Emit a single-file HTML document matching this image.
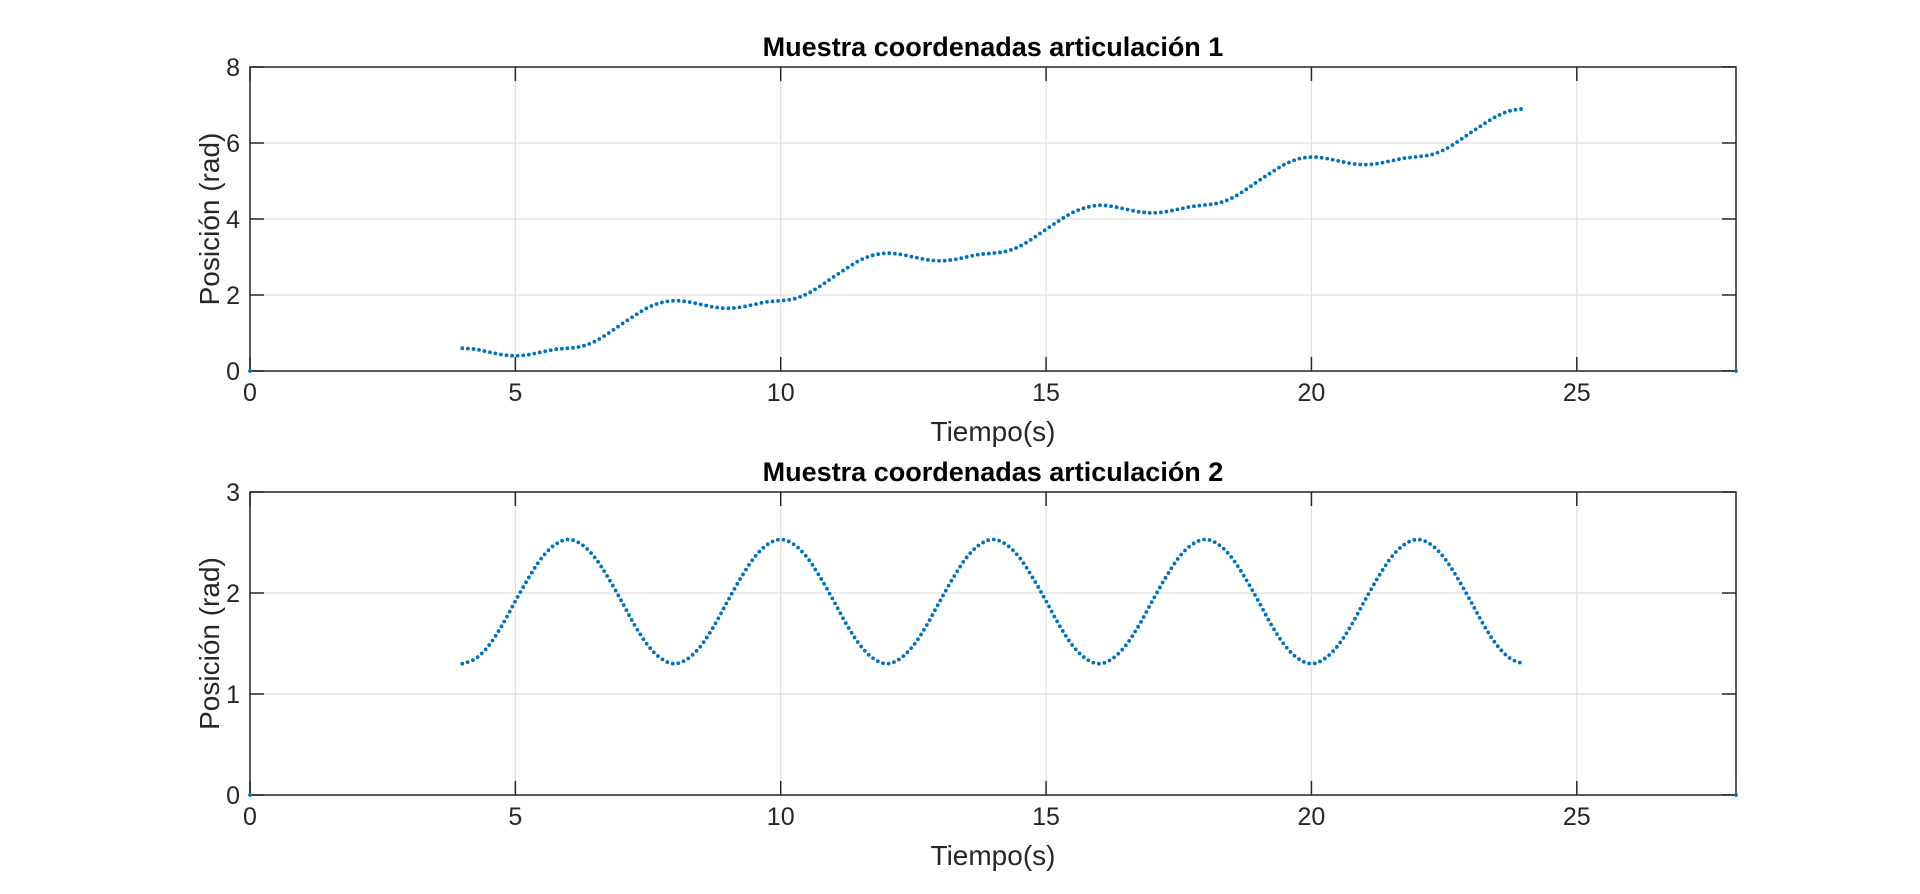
<!DOCTYPE html>
<html><head><meta charset="utf-8"><style>
html,body{margin:0;padding:0;background:#fff;}
svg{display:block;font-family:"Liberation Sans",Arial,sans-serif;}
</style></head><body>
<svg id="fig" width="1920" height="894" viewBox="0 0 1920 894"></svg>
<script>
// ---- data ----
const timeStart = 4;
const timeStep = 0.25;
const joint1Values = [
0.60,0.57,0.50,0.43,0.40,0.43,0.50,0.57,0.60,0.65,0.78,0.99,1.23,1.46,1.67,1.80,
1.85,1.82,1.75,1.68,1.65,1.68,1.75,1.82,1.85,1.90,2.03,2.24,2.48,2.71,2.92,3.05,
3.10,3.07,3.00,2.93,2.90,2.93,3.00,3.07,3.10,3.15,3.28,3.49,3.73,3.96,4.17,4.30,
4.36,4.33,4.26,4.19,4.16,4.19,4.26,4.33,4.37,4.42,4.55,4.76,5.00,5.23,5.44,5.58,
5.63,5.60,5.53,5.46,5.43,5.46,5.53,5.60,5.64,5.69,5.82,6.03,6.27,6.50,6.71,6.85,
6.90];
const joint2Values = [
1.30,1.35,1.48,1.68,1.92,2.15,2.35,2.48,2.53,2.48,2.35,2.15,1.92,1.68,1.48,1.35,
1.30,1.35,1.48,1.68,1.92,2.15,2.35,2.48,2.53,2.48,2.35,2.15,1.92,1.68,1.48,1.35,
1.30,1.35,1.48,1.68,1.92,2.15,2.35,2.48,2.53,2.48,2.35,2.15,1.92,1.68,1.48,1.35,
1.30,1.35,1.48,1.68,1.92,2.15,2.35,2.48,2.53,2.48,2.35,2.15,1.92,1.68,1.48,1.35,
1.30,1.35,1.48,1.68,1.92,2.15,2.35,2.48,2.53,2.48,2.35,2.15,1.92,1.68,1.48,1.35,
1.30];
const anchorTimes = [0, 28];
const anchorValues = [0, 0];
const xTicks = [0,5,10,15,20,25];
const xTickLabels = ["0","5","10","15","20","25"];
const y1Ticks = [0,2,4,6,8];
const y2Ticks = [0,1,2,3];

const NS = "http://www.w3.org/2000/svg";
const svg = document.getElementById('fig');
function mk(tag, attrs, parent){
  const e = document.createElementNS(NS, tag);
  for (const k in attrs) e.setAttribute(k, attrs[k]);
  (parent||svg).appendChild(e);
  return e;
}

function drawPanel(cfg){
  const g = mk('g', {});
  
  
  const L=250, R=1736, T=cfg.top, B=cfg.bottom;
  const xs = v => L + (v-0)/(28-0)*(R-L);
  const ys = v => B - (v-cfg.ymin)/(cfg.ymax-cfg.ymin)*(B-T);
  xTicks.forEach(t=>{
    const l = mk('line',{x1:xs(t),x2:xs(t),y1:T,y2:B,stroke:'#dfdfdf','stroke-width':1.2},g);
    
    
  });
  cfg.yTicks.forEach(t=>{
    const l = mk('line',{x1:L,x2:R,y1:ys(t),y2:ys(t),stroke:'#dfdfdf','stroke-width':1.2},g);
    
    
  });
  const box = mk('rect',{x:L,y:T,width:R-L,height:B-T,fill:'none',stroke:'#262626','stroke-width':1.5},g);
  
  
  xTicks.forEach((t,i)=>{
    mk('line',{x1:xs(t),x2:xs(t),y1:B,y2:B-14,stroke:'#262626','stroke-width':1.5},g);
    mk('line',{x1:xs(t),x2:xs(t),y1:T,y2:T+14,stroke:'#262626','stroke-width':1.5},g);
    const tx = mk('text',{x:xs(t),y:B+30,'text-anchor':'middle','font-size':25,fill:'#262626'},g);
    tx.textContent = xTickLabels[i];
    
    
  });
  cfg.yTicks.forEach(t=>{
    mk('line',{x1:L,x2:L+14,y1:ys(t),y2:ys(t),stroke:'#262626','stroke-width':1.5},g);
    mk('line',{x1:R,x2:R-14,y1:ys(t),y2:ys(t),stroke:'#262626','stroke-width':1.5},g);
    const tx = mk('text',{x:L-10,y:ys(t)+9,'text-anchor':'end','font-size':25,fill:'#262626'},g);
    tx.textContent = String(t);
    
    
  });
  const ttl = mk('text',{x:993,y:T-11,'text-anchor':'middle','font-size':27,'font-weight':'bold',fill:'#000'},g);
  ttl.textContent = cfg.title;
  
  
  const xl = mk('text',{x:993,y:B+70,'text-anchor':'middle','font-size':28,fill:'#262626'},g);
  xl.textContent = 'Tiempo(s)';
  
  
  const yc = (T+B)/2;
  const yl = mk('text',{x:219,y:yc,'text-anchor':'middle','font-size':28,fill:'#262626',transform:`rotate(-90 219 ${yc})`},g);
  yl.textContent = 'Posición (rad)';
  
  
  const pts = cfg.values.map((v,i)=>[xs(timeStart+i*timeStep), ys(v)]);
  let d = `M${pts[0][0]},${pts[0][1]}`;
  for (let i=0;i<pts.length-1;i++){
    const p0=pts[Math.max(0,i-1)], p1=pts[i], p2=pts[i+1], p3=pts[Math.min(pts.length-1,i+2)];
    const c1=[p1[0]+(p2[0]-p0[0])/6, p1[1]+(p2[1]-p0[1])/6];
    const c2=[p2[0]-(p3[0]-p1[0])/6, p2[1]-(p3[1]-p1[1])/6];
    d += ` C${c1[0]},${c1[1]} ${c2[0]},${c2[1]} ${p2[0]},${p2[1]}`;
  }
  const path = mk('path',{d:d,fill:'none',stroke:'#0072BD','stroke-width':3.8,'stroke-linecap':'round','stroke-dasharray':'0 5.6'},g);
  
  
  anchorTimes.forEach((t,i)=>{
    const c = mk('circle',{cx:xs(t),cy:ys(anchorValues[i]),r:1.9,fill:'#0072BD'},g);
    
    
  });
}

drawPanel({name:'joint-1-panel',top:67,bottom:371,ymin:0,ymax:8,yTicks:y1Ticks,values:joint1Values,
  title:'Muestra coordenadas articulación 1',seriesName:'joint-1-series'});
drawPanel({name:'joint-2-panel',top:492,bottom:795,ymin:0,ymax:3,yTicks:y2Ticks,values:joint2Values,
  title:'Muestra coordenadas articulación 2',seriesName:'joint-2-series'});
</script>
</body></html>
